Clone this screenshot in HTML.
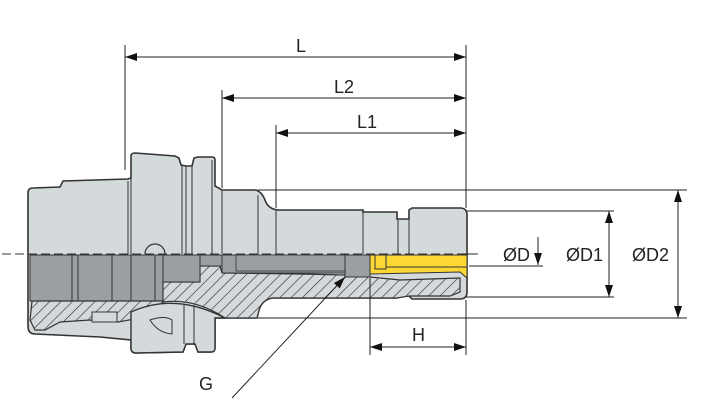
<!DOCTYPE html>
<html><head><meta charset="utf-8"><style>
html,body{margin:0;padding:0;background:#fff;}
svg{display:block;}
text{font-family:"Liberation Sans",sans-serif;fill:#222;font-size:18px;}
</style></head><body>
<svg width="707" height="416" viewBox="0 0 707 416" xmlns="http://www.w3.org/2000/svg">
<defs>
<pattern id="h" patternUnits="userSpaceOnUse" width="8" height="8" patternTransform="rotate(45)">
<rect width="8" height="8" fill="#d4d9dc"/><line x1="0" y1="0" x2="0" y2="8" stroke="#333" stroke-width="1.3"/>
</pattern>
<marker id="a" markerWidth="12" markerHeight="8" refX="12" refY="4" orient="auto" markerUnits="userSpaceOnUse"><path d="M0,0 L12,4 L0,8 Z" fill="#111"/></marker>
<marker id="as" markerWidth="12" markerHeight="8" refX="0" refY="4" orient="auto" markerUnits="userSpaceOnUse"><path d="M12,0 L0,4 L12,8 Z" fill="#111"/></marker>
</defs>

<path d="M28,318 L28,193 Q28,188 33,188 L60,187 L63,181 L128,179 L131,178 L131,156 Q131,153 135,153 L175,156 L179,158 L181,165 L186,166 L192,166 L194,158 L198,157 L212,157 Q215,157 215,160 L215,186 L222,190 L256,190 Q262,192 265,200 Q268,209 278,210 L363,210 L363,212 L397,212 L397,219 L409,219 L409,210 L412,208 L460,208 Q467,208 467,215 L467,292 Q467,299 460,299 L412,299 L409,296 L397,296 L397,298 L272,298 Q262,300 259,310 L257,318 L215,318 L215,348 Q215,352 211,352 L198,352 L195,344 L186,344 L183,352 L136,353 Q131,353 131,348 L131,340 L100,337 L35,334 Q28,334 28,326 Z" fill="#d4d9dc" stroke="#333" stroke-width="1.6"/>

<rect x="30" y="255" width="133" height="46" fill="#9b9fa2" stroke="#333" stroke-width="1"/>
<line x1="72" y1="255" x2="72" y2="301" stroke="#333"/>
<line x1="78" y1="255" x2="78" y2="301" stroke="#333"/>
<line x1="112" y1="255" x2="112" y2="301" stroke="#333"/>
<line x1="131" y1="255" x2="131" y2="301" stroke="#333"/>
<line x1="155" y1="255" x2="155" y2="301" stroke="#333"/>

<path d="M163,282 L200,282 L200,266 L220,266 L222,273 L300,274 L345,275 L370,277 L400,280 L460,278 L460,292 L450,296 L409,296 L397,298 L272,298 Q262,300 259,310 L257,318 L225,318 Q195,298 163,302 Z" fill="url(#h)" stroke="#333" stroke-width="1.2"/>
<path d="M32,301 L163,301 L160,310 L140,318 L118,322 L90,320 L60,322 L45,330 L35,330 L30,320 Z" fill="url(#h)" stroke="#333" stroke-width="1.2"/>
<rect x="92" y="312" width="25" height="10" fill="#d4d9dc" stroke="#333" stroke-width="1"/>
<rect x="163" y="255" width="37" height="27" fill="#9b9fa2" stroke="#333" stroke-width="1"/>
<rect x="200" y="255" width="22" height="11" fill="#9b9fa2" stroke="#333" stroke-width="1"/>
<rect x="222" y="255" width="123" height="18" fill="#9b9fa2" stroke="#333" stroke-width="1"/>
<rect x="236" y="255" width="109" height="16" fill="#9b9fa2" stroke="#333" stroke-width="0.8"/>
<rect x="345" y="255" width="25" height="22" fill="#9b9fa2" stroke="#333" stroke-width="1"/>
<path d="M131,312 Q175,292 225,318 L215,318 L215,348 Q215,352 211,352 L198,352 L195,344 L186,344 L183,352 L136,353 Q131,353 131,348 Z" fill="#d4d9dc" stroke="#333" stroke-width="1.4"/>
<path d="M150,320 Q165,315 172,320 L172,334 Q158,333 150,320 Z" fill="none" stroke="#333" stroke-width="1"/>
<line x1="184" y1="305" x2="184" y2="344" stroke="#333"/><line x1="194" y1="305" x2="194" y2="344" stroke="#333"/>
<g stroke="#333" stroke-width="1">
<line x1="128" y1="181" x2="128" y2="254"/><line x1="131" y1="178" x2="131" y2="254"/>
<line x1="182" y1="166" x2="182" y2="254"/><line x1="186" y1="166" x2="186" y2="254"/><line x1="192" y1="166" x2="192" y2="254"/>
<line x1="212" y1="160" x2="212" y2="254"/><line x1="222" y1="190" x2="222" y2="254"/>
<line x1="258" y1="195" x2="258" y2="254"/><line x1="276" y1="210" x2="276" y2="254"/>
<line x1="363" y1="212" x2="363" y2="254"/><line x1="398" y1="219" x2="398" y2="254"/><line x1="409" y1="219" x2="409" y2="254"/>
</g>
<path d="M145,254 A10,10 0 0 1 165,254" fill="#d4d9dc" stroke="#333" stroke-width="1.2"/>
<path d="M370,255 L467,255 L467,278 L460,272 L370,274 Z" fill="#fdd835" stroke="#333" stroke-width="1"/>
<rect x="375" y="255" width="11" height="14" fill="none" stroke="#333" stroke-width="1"/>
<line x1="386" y1="267" x2="467" y2="267" stroke="#333" stroke-width="1"/>
<line x1="2" y1="254" x2="478" y2="254" stroke="#333" stroke-width="1" stroke-dasharray="9,4"/>

<g stroke="#222" stroke-width="1" fill="none">
<line x1="125" y1="45" x2="125" y2="170"/>
<line x1="222" y1="90" x2="222" y2="188"/>
<line x1="276" y1="125" x2="276" y2="208"/>
<line x1="466" y1="45" x2="466" y2="208"/>
<line x1="125" y1="57" x2="466" y2="57" marker-start="url(#as)" marker-end="url(#a)"/>
<line x1="222" y1="98" x2="466" y2="98" marker-start="url(#as)" marker-end="url(#a)"/>
<line x1="276" y1="133" x2="466" y2="133" marker-start="url(#as)" marker-end="url(#a)"/>
<line x1="258" y1="190" x2="687" y2="190"/>
<line x1="466" y1="211" x2="614" y2="211"/>
<line x1="466" y1="297" x2="614" y2="297"/>
<line x1="258" y1="318" x2="687" y2="318"/>
<line x1="462" y1="254" x2="475" y2="254"/>
<line x1="469" y1="266" x2="543" y2="266"/>
<line x1="538" y1="237" x2="538" y2="265" marker-end="url(#a)"/>
<line x1="609" y1="211" x2="609" y2="297" marker-start="url(#as)" marker-end="url(#a)"/>
<line x1="678" y1="190" x2="678" y2="318" marker-start="url(#as)" marker-end="url(#a)"/>
<line x1="370" y1="278" x2="370" y2="355"/>
<line x1="466" y1="300" x2="466" y2="355"/>
<line x1="370" y1="347" x2="466" y2="347" marker-start="url(#as)" marker-end="url(#a)"/>
<line x1="232" y1="398" x2="345" y2="277" marker-end="url(#a)"/>
</g>
<text x="296" y="52">L</text>
<text x="334" y="93">L2</text>
<text x="357" y="128">L1</text>
<text x="503" y="261">ØD</text>
<text x="566" y="261">ØD1</text>
<text x="632" y="261">ØD2</text>
<text x="412" y="341">H</text>
<text x="199" y="390">G</text>
</svg>
</body></html>
